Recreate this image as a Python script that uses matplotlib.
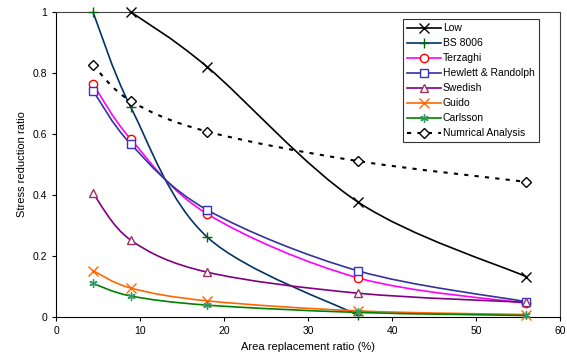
import numpy as np
import matplotlib.pyplot as plt
from matplotlib.path import Path
from matplotlib.patches import PathPatch
from matplotlib.lines import Line2D

plt.rcParams['font.family'] = ['Liberation Sans', 'DejaVu Sans']

# area replacement ratio (%)
x = [4.4, 8.9, 18, 36, 56]

low = [None, 1.0, 0.82, 0.376, 0.132]
bs8006 = [1.0, 0.688, 0.262, 0.005, None]
terzaghi = [0.764, 0.583, 0.338, 0.128, 0.045]
hewlett = [0.742, 0.567, 0.351, 0.151, 0.05]
swedish = [0.406, 0.252, 0.147, 0.078, 0.048]
guido = [0.152, 0.095, 0.053, 0.02, 0.008]
carlsson = [0.11, 0.069, 0.039, 0.015, 0.005]
numerical = [0.826, 0.708, 0.608, 0.511, 0.443]

series = [
    # name, values, line colour, marker, marker colour, linestyle
    ("Low", low, "#000000", "x", "#000000", "-"),
    ("BS 8006", bs8006, "#003366", "+", "#006600", "-"),
    ("Terzaghi", terzaghi, "#FF00FF", "o", "#FF0000", "-"),
    ("Hewlett & Randolph", hewlett, "#333399", "s", "#3333CC", "-"),
    ("Swedish", swedish, "#800080", "^", "#993366", "-"),
    ("Guido", guido, "#FF6600", "x", "#FF6600", "-"),
    ("Carlsson", carlsson, "#008000", (6, 2, 0), "#339966", "-"),
    ("Numrical Analysis", numerical, "#000000", "D", "#000000", (0, (2, 3))),
]


def smooth_path(xs, ys):
    # Excel style smoothed line: cubic bezier through the points
    pts = np.array(list(zip(xs, ys)), dtype=float)
    n = len(pts)
    verts = [pts[0]]
    codes = [Path.MOVETO]
    for i in range(n - 1):
        p0 = pts[i - 1] if i > 0 else pts[i]
        p1 = pts[i]
        p2 = pts[i + 1]
        p3 = pts[i + 2] if i + 2 < n else pts[i + 1]
        c1 = p1 + (p2 - p0) / 6
        c2 = p2 - (p3 - p1) / 6
        verts += [c1, c2, p2]
        codes += [Path.CURVE4] * 3
    return Path(verts, codes)


fig = plt.figure(figsize=(5.67, 3.6), dpi=100)
ax = fig.add_axes([0.0988, 0.1194, 0.8889, 0.8473])

handles = []
for name, vals, lc, mk, mc, ls in series:
    xs = [xi for xi, v in zip(x, vals) if v is not None]
    ys = [v for v in vals if v is not None]
    lw = 1.5 if name == "Numrical Analysis" else 1.2
    patch = PathPatch(smooth_path(xs, ys), facecolor="none", edgecolor=lc,
                      lw=lw, linestyle=ls, capstyle="butt")
    ax.add_patch(patch)
    ms = 6.5 if mk in ("x", "+") else 6
    if mk == "D":
        ms = 5.5
    ax.plot(xs, ys, linestyle="none", marker=mk, markersize=ms,
            markeredgecolor=mc, markerfacecolor="white", markeredgewidth=1.0,
            clip_on=False, zorder=3)
    handles.append(Line2D([], [], color=lc, lw=lw, linestyle=ls, marker=mk,
                          markersize=ms, markeredgecolor=mc,
                          markerfacecolor="white", markeredgewidth=1.0,
                          label=name))

ax.set_xlim(0, 60)
ax.set_ylim(0, 1)
ax.set_xticks(np.arange(0, 61, 10))
ax.set_yticks([0, 0.2, 0.4, 0.6, 0.8, 1])
ax.set_yticklabels(["0", "0.2", "0.4", "0.6", "0.8", "1"])
ax.tick_params(labelsize=7.5, length=3, width=0.8, direction="out")
ax.set_xlabel("Area replacement ratio (%)", fontsize=8)
ax.set_ylabel("Stress reduction ratio", fontsize=8)
for s in ["top", "right"]:
    ax.spines[s].set_color("#404040")
    ax.spines[s].set_linewidth(0.8)

leg = ax.legend(handles=handles, loc="upper left",
                bbox_to_anchor=(0.711, 0.947), bbox_transform=fig.transFigure,
                fontsize=7.5, frameon=True, fancybox=False, edgecolor="black",
                handlelength=3.2, handletextpad=0.2, labelspacing=0.48,
                borderpad=0.4, borderaxespad=0)
leg.get_frame().set_linewidth(0.8)

fig.savefig("out.png", dpi=100)
